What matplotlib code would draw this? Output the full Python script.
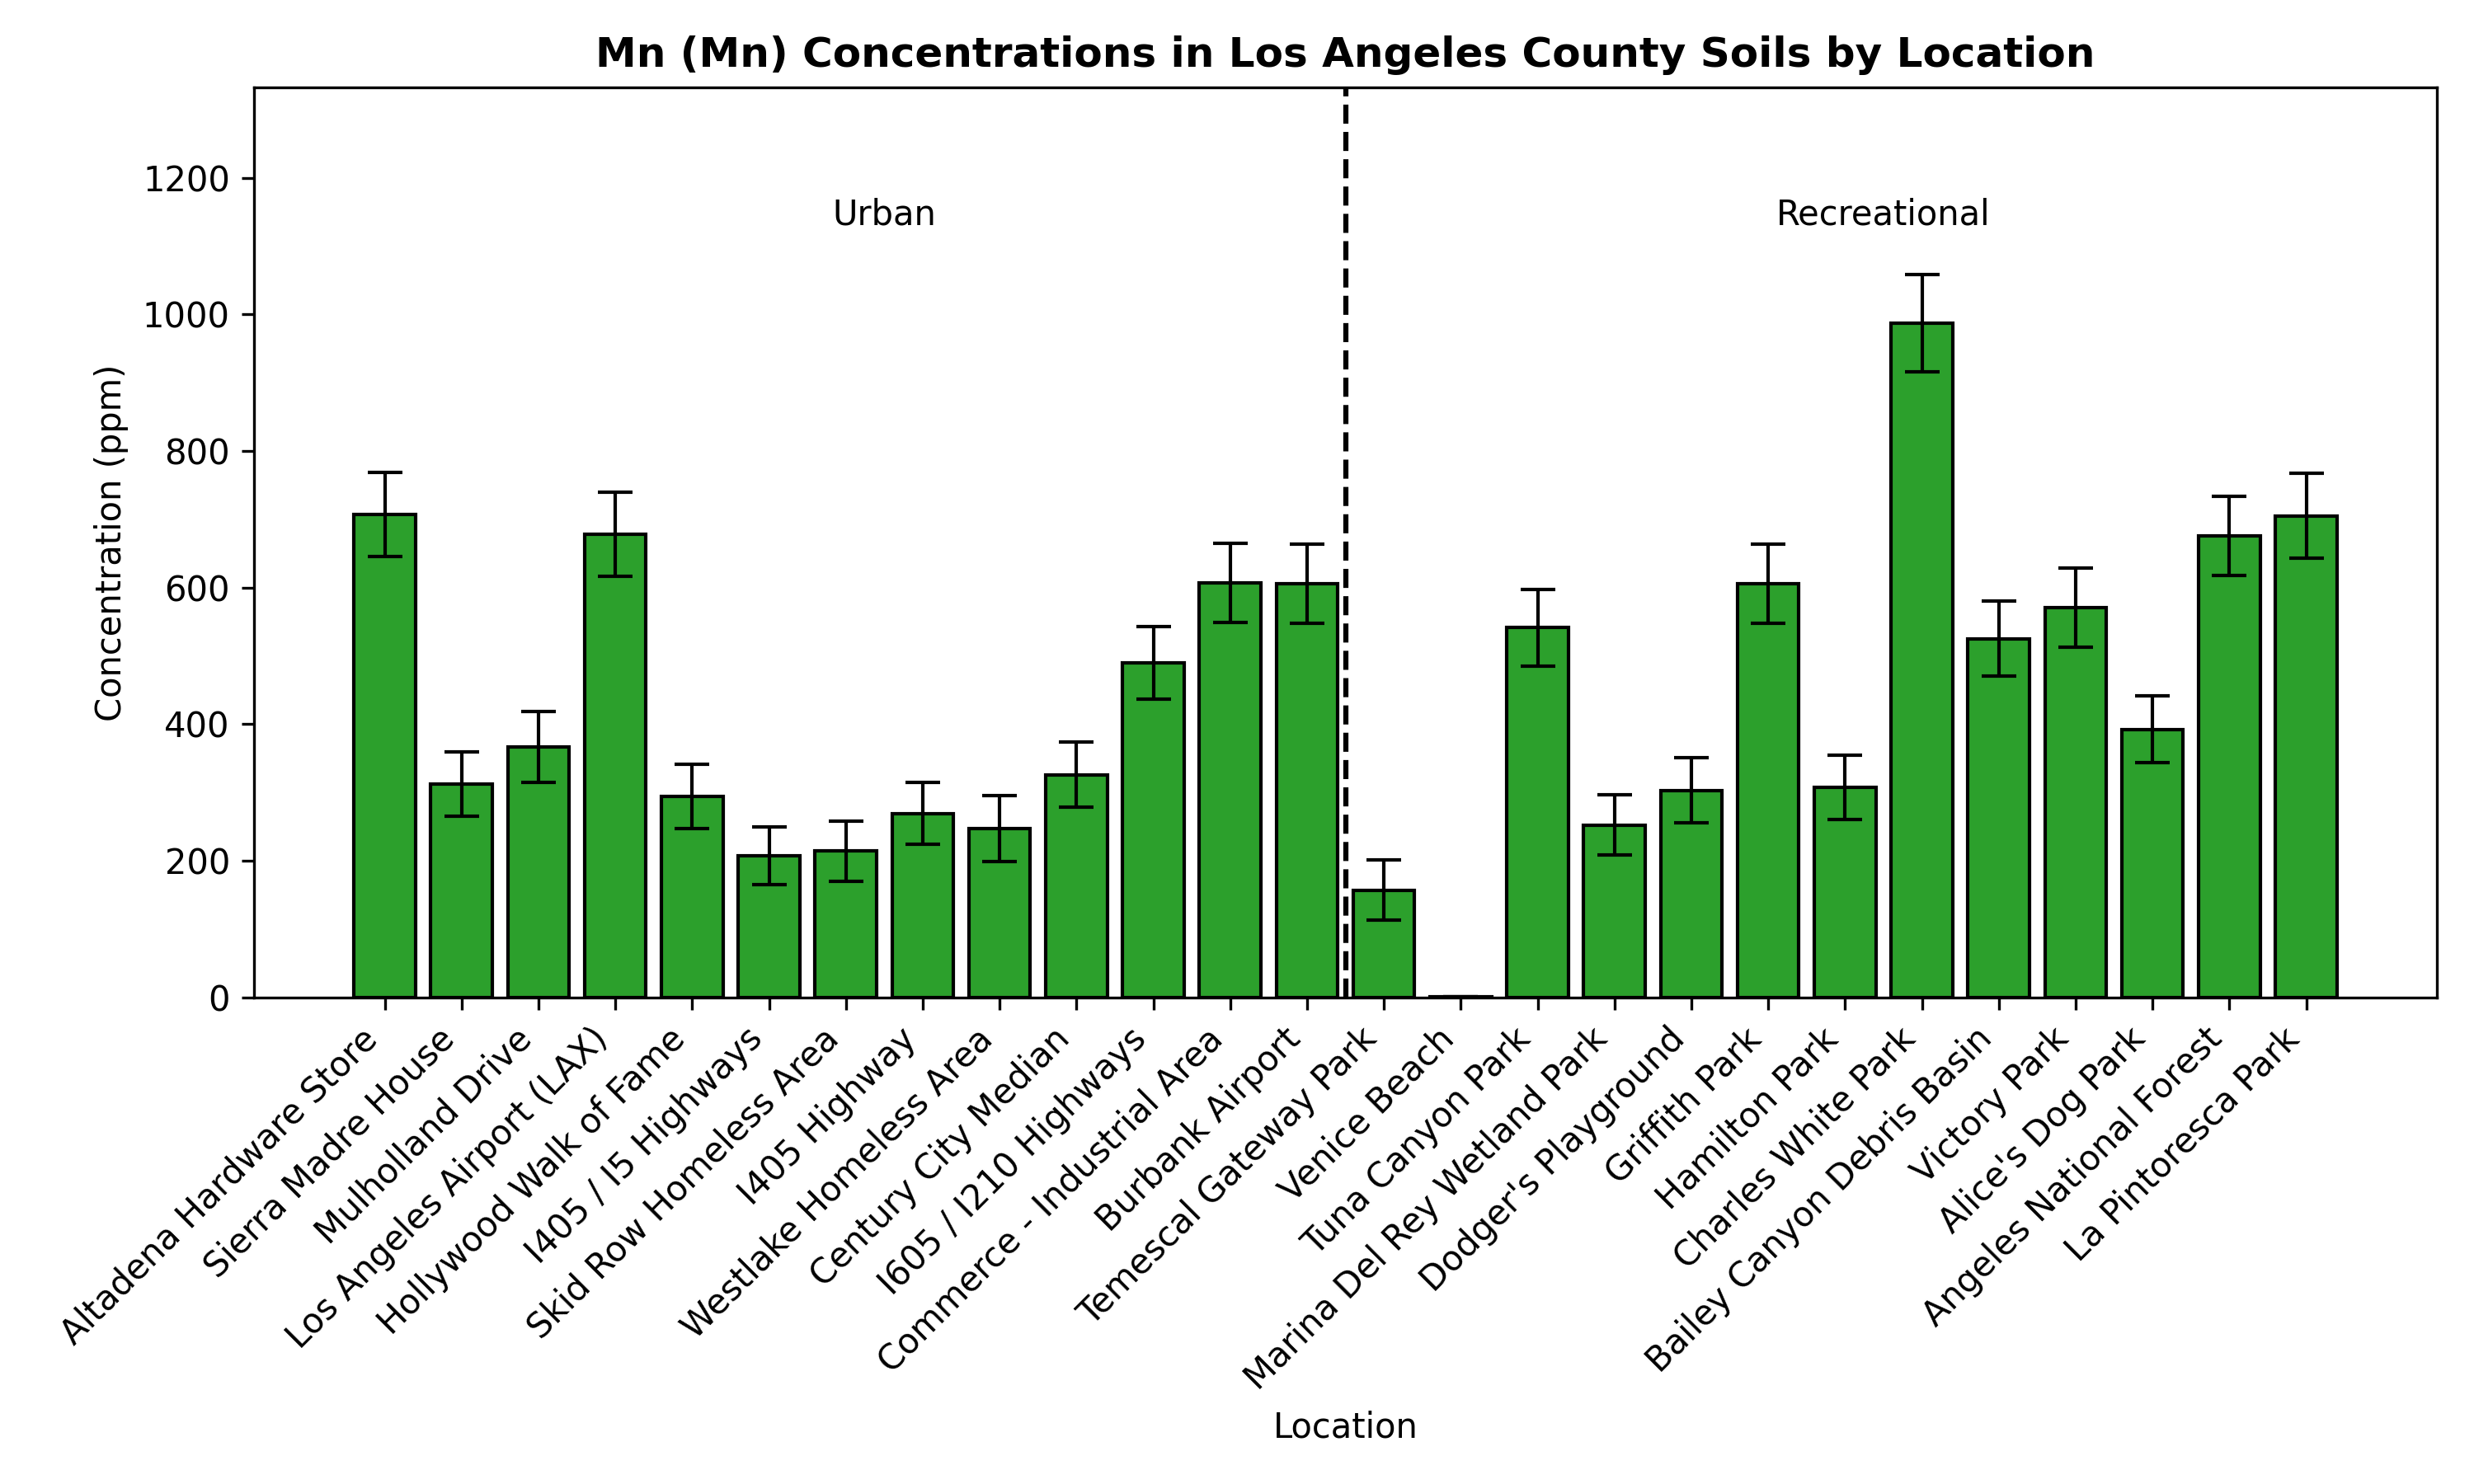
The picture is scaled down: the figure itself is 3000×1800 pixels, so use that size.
import matplotlib
matplotlib.use("Agg")
import matplotlib.pyplot as plt
import numpy as np

locations = [
    "Altadena Hardware Store", "Sierra Madre House", "Mulholland Drive",
    "Los Angeles Airport (LAX)", "Hollywood Walk of Fame", "I405 / I5 Highways",
    "Skid Row Homeless Area", "I405 Highway", "Westlake Homeless Area",
    "Century City Median", "I605 / I210 Highways", "Commerce - Industrial Area",
    "Burbank Airport", "Temescal Gateway Park", "Venice Beach", "Tuna Canyon Park",
    "Marina Del Rey Wetland Park", "Dodger's Playground", "Griffith Park",
    "Hamilton Park", "Charles White Park", "Bailey Canyon Debris Basin",
    "Victory Park", "Alice's Dog Park", "Angeles National Forest", "La Pintoresca Park",
]
concentration = [707, 312, 366, 678, 294, 207, 214, 269, 247, 326, 490, 607,
                 606, 157, 1, 541, 252, 303, 605, 307, 987, 525, 571, 392, 676, 705]
error = [62, 47, 52, 62, 47, 42, 44, 45, 48, 48, 53, 58,
         58, 44, 0, 56, 44, 48, 58, 47, 71, 55, 58, 49, 58, 62]
group_labels = ["Urban", "Recreational"]
n_urban = 13

fig, ax = plt.subplots(figsize=(10, 6), dpi=300)
x = np.arange(len(locations))
ax.bar(x, concentration, width=0.8, color="#2ca02c", edgecolor="black",
       linewidth=1.0, yerr=error, capsize=5,
       error_kw=dict(ecolor="black", elinewidth=1.0, capthick=1.0))

ax.axvline(n_urban - 0.5, color="black", linestyle="--", linewidth=1.5)
ymax = 1332
ax.set_ylim(0, ymax)
ax.set_xlim(-1.7, len(locations) + 0.7)
ax.text(n_urban / 2, ymax * 0.86, group_labels[0], ha="center", va="center", fontsize=10)
ax.text((n_urban + len(locations)) / 2, ymax * 0.86, group_labels[1],
        ha="center", va="center", fontsize=10)

ax.set_xticks(x)
ax.set_xticklabels(locations, rotation=45, ha="right", fontsize=10)
ax.set_yticks(np.arange(0, 1201, 200))
ax.set_xlabel("Location", fontsize=10)
ax.set_ylabel("Concentration (ppm)", fontsize=10)
ax.set_title("Mn (Mn) Concentrations in Los Angeles County Soils by Location",
             fontsize=12, fontweight="bold")

fig.subplots_adjust(left=0.1027, right=0.985, top=0.941, bottom=0.328)
fig.savefig("out.png", dpi=300)
